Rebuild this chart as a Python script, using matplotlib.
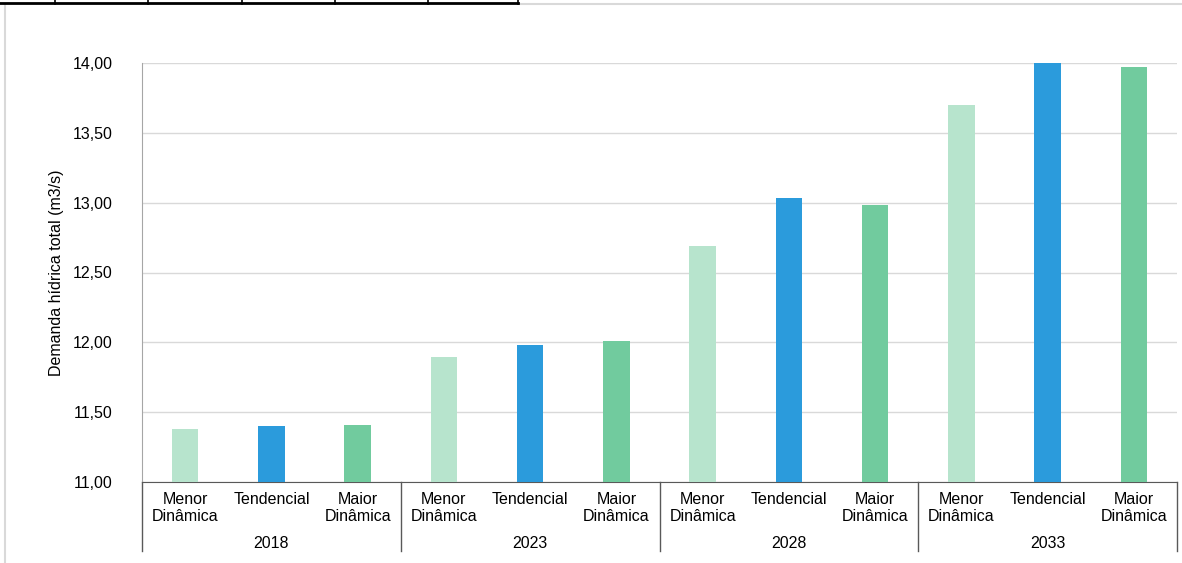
import numpy as np
import matplotlib.pyplot as plt
from matplotlib.lines import Line2D

plt.rcParams['font.family'] = ['Liberation Sans', 'DejaVu Sans']

anos = ['2018', '2023', '2028', '2033']
cenarios = ['Menor\nDinâmica', 'Tendencial', 'Maior\nDinâmica']
menor = [11.38, 11.895, 12.69, 13.70]
tendencial = [11.40, 11.98, 13.03, 14.00]
maior = [11.41, 12.01, 12.98, 13.97]
cores = ['#B7E4CD', '#2B9BDC', '#71CB9E']

fig = plt.figure(figsize=(11.82, 5.63), dpi=100)
ax = fig.add_axes([142 / 1182, 1 - 482 / 563, 1035 / 1182, 419 / 563])

valores = []
cores_barras = []
for i in range(len(anos)):
    for serie, cor in zip([menor, tendencial, maior], cores):
        valores.append(serie[i])
        cores_barras.append(cor)
x = np.arange(len(valores))
ax.bar(x, np.array(valores) - 11, bottom=11, width=0.31, color=cores_barras, zorder=3)

ax.set_xlim(-0.5, len(valores) - 0.5)
ax.set_ylim(11, 14)
ax.set_yticks(np.arange(11, 14.01, 0.5))
ax.set_yticklabels([f'{v:.2f}'.replace('.', ',') for v in np.arange(11, 14.01, 0.5)],
                   fontsize=11.5)
ax.tick_params(axis='y', length=0, pad=21)
ax.tick_params(axis='x', length=0)
ax.set_xticks(x)
ax.set_xticklabels([])
ax.grid(axis='y', color='#D9D9D9', linewidth=1, zorder=0)
for s in ['top', 'right']:
    ax.spines[s].set_visible(False)
ax.spines['left'].set_color('#A6A6A6')
ax.spines['bottom'].set_color('#595959')
ax.set_ylabel('Demanda hídrica total (m3/s)', fontsize=11.5, labelpad=6)

# category labels
for xi in x:
    ax.text(xi, 11 - 0.075, cenarios[xi % 3], ha='center', va='top', fontsize=11.5,
            linespacing=1.15)
for i, ano in enumerate(anos):
    ax.text(3 * i + 1, 11 - 0.39, ano, ha='center', va='top', fontsize=11.5)
for k in range(len(anos) + 1):
    ax.plot([3 * k - 0.5, 3 * k - 0.5], [11, 11 - 0.495], color='#595959',
            linewidth=1, clip_on=False)

# frame fragments from the page
fig.add_artist(Line2D([5 / 1182, 5 / 1182], [0, 1 - 4 / 563], color='#D9D9D9', lw=1.5))
fig.add_artist(Line2D([518 / 1182, 1], [1 - 4 / 563, 1 - 4 / 563], color='#D9D9D9', lw=1.5))
fig.add_artist(Line2D([0, 518 / 1182], [1 - 3 / 563, 1 - 3 / 563], color='black', lw=2))
for px in [55, 148, 242, 335, 428, 518]:
    fig.add_artist(Line2D([px / 1182, px / 1182], [1 - 4 / 563, 1], color='black', lw=1.2))

fig.savefig('out.png', dpi=100)
